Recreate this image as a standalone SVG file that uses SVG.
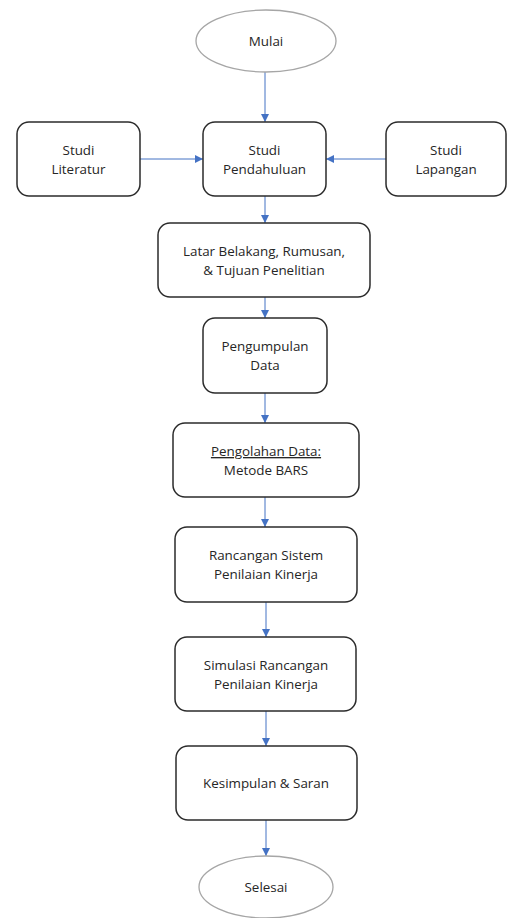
<svg xmlns="http://www.w3.org/2000/svg" width="508" height="918" viewBox="0 0 508 918">
  <style>
    .box { fill: #ffffff; stroke: #2b2b2b; stroke-width: 1.5; }
    .term { fill: #ffffff; stroke: #a6a6a6; stroke-width: 1.3; }
    .lbl { font-family: "Open Sans", "Liberation Sans", sans-serif; font-size: 13.4px; fill: #262626; text-anchor: middle; }
    .link { stroke: #4472c4; stroke-width: 1; fill: none; marker-end: url(#arrow); }
  </style>
  <defs>
    <marker id="arrow" viewBox="0 0 10 10" refX="10" refY="5" markerWidth="8" markerHeight="8" markerUnits="userSpaceOnUse" orient="auto">
      <path d="M0,0 L10,5 L0,10 z" fill="#4472c4"/>
    </marker>
  </defs>
  <rect width="508" height="918" fill="#ffffff"/>

  <g id="connectors">
    <line class="link" x1="265" y1="72" x2="265" y2="122"/>
    <line class="link" x1="140" y1="159" x2="203" y2="159"/>
    <line class="link" x1="386" y1="159" x2="326" y2="159"/>
    <line class="link" x1="265" y1="196" x2="265" y2="223"/>
    <line class="link" x1="265" y1="297" x2="265" y2="318"/>
    <line class="link" x1="265" y1="393" x2="265" y2="423"/>
    <line class="link" x1="265" y1="497" x2="265" y2="527"/>
    <line class="link" x1="266" y1="602" x2="266" y2="637"/>
    <line class="link" x1="266" y1="711" x2="266" y2="746"/>
    <line class="link" x1="266" y1="820" x2="266" y2="856"/>
  </g>

  <g id="mulai">
    <ellipse class="term" cx="266" cy="41" rx="70" ry="31"/>
    <text class="lbl" x="266" y="46">Mulai</text>
  </g>
  <g id="studi-literatur">
    <rect class="box" x="17" y="122" width="123" height="74" rx="12"/>
    <text class="lbl" x="78.5" y="155">Studi</text>
    <text class="lbl" x="78.5" y="174">Literatur</text>
  </g>
  <g id="studi-pendahuluan">
    <rect class="box" x="203" y="122" width="123" height="74" rx="12"/>
    <text class="lbl" x="264.5" y="155">Studi</text>
    <text class="lbl" x="264.5" y="174">Pendahuluan</text>
  </g>
  <g id="studi-lapangan">
    <rect class="box" x="386" y="122" width="120" height="74" rx="12"/>
    <text class="lbl" x="446" y="155">Studi</text>
    <text class="lbl" x="446" y="174">Lapangan</text>
  </g>
  <g id="latar-belakang">
    <rect class="box" x="158" y="223" width="212" height="74" rx="12"/>
    <text class="lbl" x="264" y="256">Latar Belakang, Rumusan,</text>
    <text class="lbl" x="264" y="275">&amp; Tujuan Penelitian</text>
  </g>
  <g id="pengumpulan-data">
    <rect class="box" x="203" y="318" width="124" height="75" rx="12"/>
    <text class="lbl" x="265" y="351">Pengumpulan</text>
    <text class="lbl" x="265" y="370">Data</text>
  </g>
  <g id="pengolahan-data">
    <rect class="box" x="173" y="423" width="186" height="74" rx="12"/>
    <text class="lbl" x="266" y="456" text-decoration="underline">Pengolahan Data:</text>
    <text class="lbl" x="266" y="475">Metode BARS</text>
  </g>
  <g id="rancangan-sistem">
    <rect class="box" x="175" y="527" width="182" height="75" rx="12"/>
    <text class="lbl" x="266" y="560">Rancangan Sistem</text>
    <text class="lbl" x="266" y="579">Penilaian Kinerja</text>
  </g>
  <g id="simulasi-rancangan">
    <rect class="box" x="175" y="637" width="181" height="74" rx="12"/>
    <text class="lbl" x="266" y="670">Simulasi Rancangan</text>
    <text class="lbl" x="266" y="689">Penilaian Kinerja</text>
  </g>
  <g id="kesimpulan-saran">
    <rect class="box" x="176" y="746" width="181" height="74" rx="12"/>
    <text class="lbl" x="266" y="788">Kesimpulan &amp; Saran</text>
  </g>
  <g id="selesai">
    <ellipse class="term" cx="266" cy="887" rx="67" ry="31"/>
    <text class="lbl" x="266" y="892">Selesai</text>
  </g>
</svg>
